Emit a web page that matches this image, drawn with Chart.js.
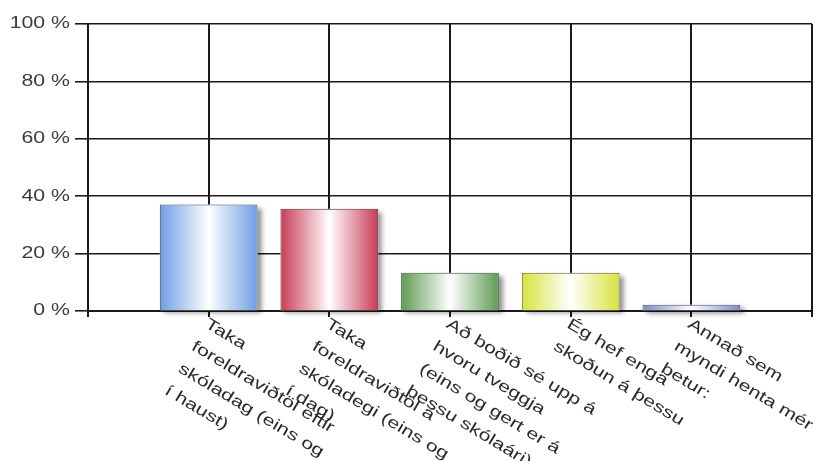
<!DOCTYPE html>
<html>
<head>
<meta charset="utf-8">
<script src="https://cdn.jsdelivr.net/npm/chart.js@4"></script>
<style>
  html, body { margin: 0; padding: 0; background: #fff; }
  #wrap { width: 822px; height: 461px; position: relative; }
</style>
</head>
<body>
<div id="wrap"><canvas id="chart"></canvas></div>
<script>
// ── Data ─────────────────────────────────
const categories = [
  ['Taka', 'foreldraviðtöl eftir', 'skóladag (eins og', 'í haust)'],
  ['Taka', 'foreldraviðtöl á', 'skóladegi (eins og', 'í dag)'],
  ['Að boðið sé upp á', 'hvoru tveggja', '(eins og gert er á', 'þessu skólaári)'],
  ['Ég hef enga', 'skoðun á þessu'],
  ['Annað sem', 'myndi henta mér', 'betur:'],
];
const percentages = [37.1, 35.6, 13.3, 13.3, 2.2];
const yTickValues = [0, 20, 40, 60, 80, 100];
const yTickLabels = ['0 %', '20 %', '40 %', '60 %', '80 %', '100 %'];

// ── Styles ───────────────────────────────
const barBase = ['#6e9de3', '#c93a55', '#5e9a52', '#d6e33c', '#7d8cc4'];
const barEdge = ['#3a4a66', '#5a2a33', '#3c5a38', '#5e6234', '#4a5070'];
const BAR_PCT = 0.81;
const LINE = '#1a1a1a';
const FONT = '16px "Liberation Sans", Arial, sans-serif';
const STRETCH = 1.33;                 // text in the reference is drawn wide
const ANGLE = 31 * Math.PI / 180;
const LABEL_LINE_H = 26;

// one empty slot on each side, like the reference's layout
const slotLabels = [''].concat(categories, ['']);
const slotData = [null].concat(percentages, [null]);

function barGradient(ctx) {
  const i = ctx.dataIndex - 1;
  const xs = ctx.chart.scales.x;
  if (!xs || !(i >= 0 && i < barBase.length)) return 'transparent';
  const cx = xs.getPixelForValue(ctx.dataIndex);
  const half = (xs.getPixelForValue(1) - xs.getPixelForValue(0)) * BAR_PCT / 2;
  const g = ctx.chart.ctx.createLinearGradient(cx - half, 0, cx + half, 0);
  g.addColorStop(0, barBase[i]);
  g.addColorStop(0.5, '#ffffff');
  g.addColorStop(1, barBase[i]);
  return g;
}

// ── Drop shadow under bars ───────────────
const shadowPlugin = {
  id: 'barShadow',
  beforeDatasetsDraw(chart) {
    const ctx = chart.ctx;
    const meta = chart.getDatasetMeta(0);
    ctx.save();
    ctx.shadowColor = 'rgba(0,0,0,0.45)';
    ctx.shadowBlur = 5;
    ctx.shadowOffsetX = 4;
    ctx.shadowOffsetY = 3;
    ctx.fillStyle = '#fff';
    meta.data.forEach((bar, k) => {
      if (slotData[k] == null) return;
      const p = bar.getProps(['x', 'y', 'base', 'width'], true);
      ctx.fillRect(p.x - p.width / 2, p.y, p.width, p.base - p.y);
    });
    ctx.restore();
  },
};

// ── Wide axis labels (drawn at scale positions) ─
const labelPlugin = {
  id: 'wideLabels',
  afterDraw(chart) {
    const ctx = chart.ctx;
    const xs = chart.scales.x, ys = chart.scales.y;
    ctx.save();
    ctx.font = FONT;

    // y ticks
    ctx.fillStyle = '#3c3c3c';
    ctx.textBaseline = 'middle';
    ctx.textAlign = 'right';
    yTickValues.forEach((v, i) => {
      ctx.save();
      ctx.translate(xs.left - 18, ys.getPixelForValue(v));
      ctx.scale(STRETCH, 1);
      ctx.fillText(yTickLabels[i], 0, 0);
      ctx.restore();
    });

    // rotated category labels
    ctx.fillStyle = '#2a2a2a';
    ctx.textBaseline = 'top';
    ctx.textAlign = 'left';
    categories.forEach((lines, i) => {
      ctx.save();
      ctx.translate(xs.getPixelForValue(i + 1), ys.bottom + 4);
      ctx.rotate(ANGLE);
      lines.forEach((txt, j) => {
        ctx.save();
        ctx.translate(2, j * LABEL_LINE_H);
        ctx.scale(STRETCH, 1);
        ctx.fillText(txt, 0, 0);
        ctx.restore();
      });
      ctx.restore();
    });
    ctx.restore();
  },
};

new Chart(document.getElementById('chart'), {
  type: 'bar',
  data: {
    labels: slotLabels,
    datasets: [{
      data: slotData,
      backgroundColor: barGradient,
      borderColor: (c) => barEdge[c.dataIndex - 1] || LINE,
      borderWidth: 1,
      categoryPercentage: 1,
      barPercentage: BAR_PCT,
    }],
  },
  options: {
    responsive: true,
    maintainAspectRatio: false,
    animation: false,
    layout: { padding: { left: 75, top: 24, right: 10, bottom: 144 } },
    plugins: { legend: { display: false }, tooltip: { enabled: false } },
    scales: {
      x: {
        offset: false,
        grid: { offset: false, color: LINE, lineWidth: 2, tickLength: 6 },
        border: { color: LINE, width: 2 },
        ticks: { display: false },
      },
      y: {
        min: 0, max: 100,
        afterBuildTicks: (s) => { s.ticks = yTickValues.map(v => ({ value: v })); },
        grid: { color: LINE, lineWidth: 1.6, tickLength: 13 },
        border: { color: LINE, width: 2 },
        ticks: { display: false },
      },
    },
  },
  plugins: [shadowPlugin, labelPlugin],
});
</script>
</body>
</html>
